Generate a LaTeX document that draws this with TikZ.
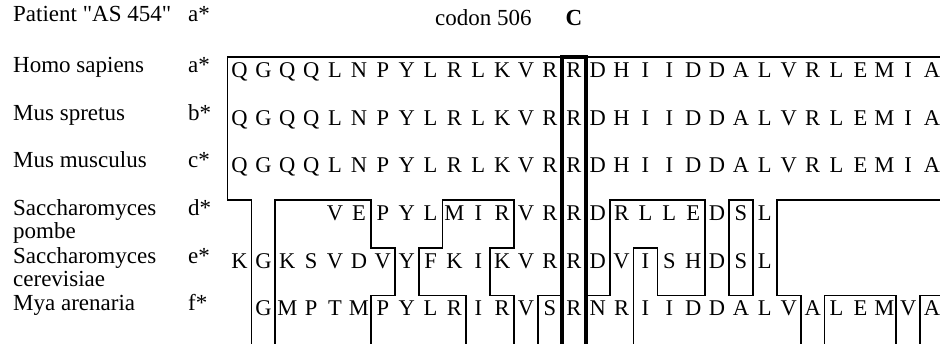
\documentclass[tikz,border=0pt]{standalone}
\usepackage{fontspec}
\setmainfont{Liberation Serif}[Ligatures=TeXOff]
\pgfmathdeclarefunction{bx}{1}{\pgfmathparse{251.44+23.88*(#1)}}
\pgfmathdeclarefunction{hy}{1}{\pgfmathparse{57+47.7*(#1)}}
\begin{document}
\begin{tikzpicture}[x=1pt,y=-1pt,
  seq/.style={anchor=base,inner sep=0pt,font=\fontsize{22.5}{27}\selectfont},
  lab/.style={anchor=base west,inner sep=0pt,font=\fontsize{23}{27}\selectfont},
  thinbox/.style={line width=1.8pt,line join=miter},
  codonbox/.style={line width=3.6pt,line join=miter}]
\useasboundingbox (0,0) rectangle (940,344);
\clip (0,0) rectangle (940,344);
% labels
\node[lab] (pat) at (13,22) {Patient "AS 454"};
\node[lab] (pats) at (188,22) {a*};
\node[lab] (codon) at (435,26) {codon 506};
\node[seq,font=\fontsize{23}{27}\selectfont\bfseries] (cc) at ({239.5+23.88*14},26) {C};
\node[lab] (homo) at (13,73) {Homo sapiens};
\node[lab] (homos) at (188,73) {a*};
\node[lab] (spre) at (13,121) {Mus spretus};
\node[lab] (spres) at (188,121) {b*};
\node[lab] (musc) at (13,168) {Mus musculus};
\node[lab] (muscs) at (188,168) {c*};
\node[lab] (pomb) at (13,216) {Saccharomyces};
\node[lab] (pomb2) at (13,239) {pombe};
\node[lab] (pombs) at (188,216) {d*};
\node[lab] (cere) at (13,264) {Saccharomyces};
\node[lab] (cere2) at (13,287) {cerevisiae};
\node[lab] (ceres) at (188,264) {e*};
\node[lab] (mya) at (13,311) {Mya arenaria};
\node[lab] (myas) at (188,311) {f*};
% sequences
\foreach \r/\yy in {a/78,b/126,c/173}{
  \foreach \l [count=\i from 0] in {Q,G,Q,Q,L,N,P,Y,L,R,L,K,V,R,R,D,H,I,I,D,D,A,L,V,R,L,E,M,I,A}
    \node[seq] (\r\i) at ({239.5+23.88*\i},\yy) {\l};
}
\foreach \l [count=\i from 4] in {V,E,P,Y,L,M,I,R,V,R,R,D,R,L,L,E,D,S,L}
  \node[seq] (d\i) at ({239.5+23.88*\i},221) {\l};
\foreach \l [count=\i from 0] in {K,G,K,S,V,D,V,Y,F,K,I,K,V,R,R,D,V,I,S,H,D,S,L}
  \node[seq] (e\i) at ({239.5+23.88*\i},269) {\l};
\foreach \l [count=\i from 1] in {G,M,P,T,M,P,Y,L,R,I,R,V,S,R,N,R,I,I,D,D,A,L,V,A,L,E,M,V,A}
  \node[seq] (f\i) at ({239.5+23.88*\i},316) {\l};
% identity outline
\draw[thinbox] ({bx(0)},350) -- ({bx(0)},{hy(3)}) -- ({bx(-1)},{hy(3)}) -- ({bx(-1)},{hy(0)}) -- (950,{hy(0)});
\draw[thinbox] ({bx(1)},350) -- ({bx(1)},{hy(3)}) -- ({bx(5)},{hy(3)}) -- ({bx(5)},{hy(4)}) -- ({bx(6)},{hy(4)}) -- ({bx(6)},{hy(5)}) -- ({bx(5)},{hy(5)}) -- ({bx(5)},350);
\draw[thinbox] ({bx(9)},350) -- ({bx(9)},{hy(5)}) -- ({bx(7)},{hy(5)}) -- ({bx(7)},{hy(4)}) -- ({bx(8)},{hy(4)}) -- ({bx(8)},{hy(3)}) -- ({bx(11)},{hy(3)}) -- ({bx(11)},{hy(4)}) -- ({bx(10)},{hy(4)}) -- ({bx(10)},{hy(5)}) -- ({bx(11)},{hy(5)}) -- ({bx(11)},350);
\draw[thinbox] ({bx(12)},350) -- ({bx(12)},{hy(5)}) -- ({bx(13)},{hy(5)});
\draw[thinbox] ({bx(14)},{hy(5)}) -- ({bx(15)},{hy(5)}) -- ({bx(15)},{hy(3)}) -- ({bx(19)},{hy(3)}) -- ({bx(19)},{hy(5)}) -- ({bx(17)},{hy(5)}) -- ({bx(17)},{hy(4)}) -- ({bx(16)},{hy(4)}) -- ({bx(16)},350);
\draw[thinbox] ({bx(20)},{hy(3)}) rectangle ({bx(21)},{hy(5)});
\draw[thinbox] ({bx(23)},350) -- ({bx(23)},{hy(5)}) -- ({bx(22)},{hy(5)}) -- ({bx(22)},{hy(3)}) -- (950,{hy(3)});
\draw[thinbox] ({bx(24)},350) -- ({bx(24)},{hy(5)}) -- ({bx(27)},{hy(5)}) -- ({bx(27)},350);
\draw[thinbox] ({bx(28)},350) -- ({bx(28)},{hy(5)}) -- (950,{hy(5)});
% codon 506 box
\draw[codonbox] ({bx(13)},350) -- ({bx(13)},{hy(0)}) -- ({bx(14)},{hy(0)}) -- ({bx(14)},350);
\end{tikzpicture}
\end{document}
